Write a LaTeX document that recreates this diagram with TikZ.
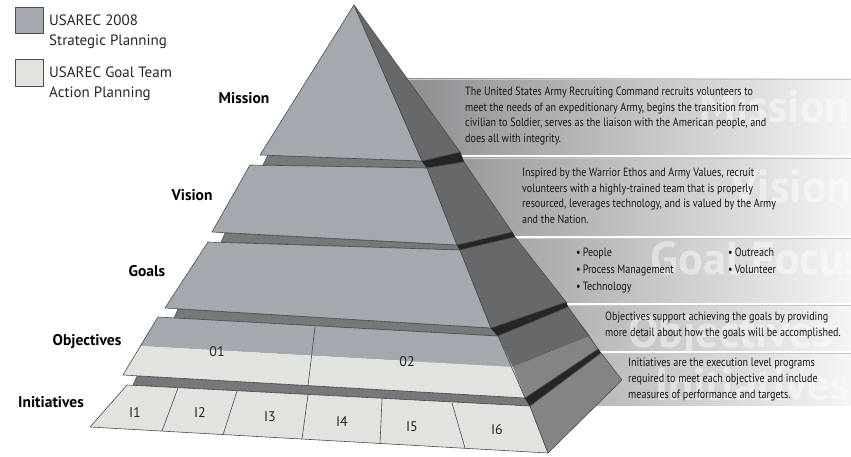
\documentclass[tikz,border=0pt]{standalone}
\usepackage{fontspec}
\setmainfont{PT Sans}
\newfontfamily\condensed{PT Sans}[FakeStretch=0.84]

\begin{document}
\begin{tikzpicture}[x=1pt, y=-1pt]
    \definecolor{stratgray}{HTML}{A3A9AE}
    \definecolor{actiongray}{HTML}{E0E3DE}
    \definecolor{sidedark}{HTML}{67686A}
    \definecolor{sidemid}{HTML}{838485}
    \definecolor{shelfgray}{HTML}{77787A}
    \definecolor{edgegray}{HTML}{4B4C4E}
    \definecolor{panelgray}{HTML}{8A8C8F}
    \definecolor{inkgray}{HTML}{161616}

    \tikzset{
        face/.style={draw=edgegray, line width=0.6pt, line join=round},
        shelf/.style={fill=shelfgray, draw=edgegray, line width=0.5pt, line join=round},
        sliver/.style={fill=black!85, draw=black!85, line width=0.4pt},
        tierlabel/.style={font=\bfseries\fontsize{15.5}{18}\selectfont, text=black},
        blocklabel/.style={font=\fontsize{14}{16}\selectfont, text=black!85},
        legendtext/.style={font=\fontsize{15}{20}\selectfont, text=black!85, align=left, anchor=west, inner sep=0pt},
        paneltext/.style={font=\condensed\fontsize{12}{15.5}\selectfont, text=inkgray, align=left, anchor=north west, inner sep=0pt},
        watermark/.style={font=\bfseries\fontsize{46}{46}\selectfont, text=white, text opacity=0.45, anchor=east, inner sep=0pt}
    }

    \useasboundingbox (0,0) rectangle (851,457);

    % legend
    \draw[face, fill=stratgray] (15,7) rectangle (43,33);
    \node[legendtext] (strategic) at (49,32) {USAREC 2008\\Strategic Planning};
    \draw[face, fill=actiongray] (15,59) rectangle (43,86);
    \node[legendtext] (action) at (49,84) {USAREC Goal Team\\Action Planning};

    % text panels behind the pyramid
    \foreach \ya/\yb/\xw/\yw/\word [count=\i] in {79/155/850/106/Mission, 158/235/852/186/Vision, 238/302/864/258/Goal Focus, 305/350/832/336/Objectives, 353/405/850/384/Initiatives}{
        \begin{scope}
            \clip (400,\ya) rectangle (851,\yb);
            \shade[left color=panelgray, right color=white!96!black] (400,\ya) rectangle (851,\yb);
            \node[watermark] (mark\i) at (\xw,\yw) {\word};
        \end{scope}
        \draw[black!22, line width=0.8pt] (400,\ya) -- (851,\ya);
    }

    \node[paneltext] (missiontext) at (465,87) {The United States Army Recruiting Command recruits volunteers to\\
        meet the needs of an expeditionary Army, begins the transition from\\
        civilian to Soldier, serves as the liaison with the American people, and\\
        does all with integrity.};
    \node[paneltext] (visiontext) at (522,168) {Inspired by the Warrior Ethos and Army Values, recruit\\
        volunteers with a highly-trained team that is properly\\
        resourced, leverages technology, and is valued by the Army\\
        and the Nation.};
    \node[paneltext, font=\condensed\fontsize{12}{17}\selectfont] (goalsleft) at (576,248) {\textbullet\,People\\
        \textbullet\,Process Management\\
        \textbullet\,Technology};
    \node[paneltext, font=\condensed\fontsize{12}{17}\selectfont] (goalsright) at (728,248) {\textbullet\,Outreach\\
        \textbullet\,Volunteer};
    \node[paneltext, font=\condensed\fontsize{12}{16}\selectfont] (objectivestext) at (605,312) {Objectives support achieving the goals by providing\\
        more detail about how the goals will be accomplished.};
    \node[paneltext, font=\condensed\fontsize{12}{16}\selectfont] (initiativestext) at (628,358) {Initiatives are the execution level programs\\
        required to meet each objective and include\\
        measures of performance and targets.};

    % shelves between the tiers
    \draw[shelf] (268,155) -- (422,161) -- (427,168) -- (263,165) -- cycle;
    \draw[shelf] (225,233) -- (457,245) -- (460,250) -- (221,242) -- cycle;
    \draw[shelf] (178,309) -- (491,328) -- (498,336) -- (174,318) -- cycle;
    \draw[shelf] (137,376) -- (525,398) -- (530,406) -- (133,385) -- cycle;
    \draw[sliver] (422,161) -- (460,152) -- (464,162) -- (427,168) -- cycle;
    \draw[sliver] (457,245) -- (512,232) -- (515,237) -- (460,250) -- cycle;
    \draw[sliver] (491,328) -- (566,302) -- (568,307) -- (498,336) -- cycle;
    \draw[sliver] (525,398) -- (598,349) -- (601,353) -- (530,406) -- cycle;

    % mission
    \draw[face, fill=stratgray] (354,5) -- (422,161) -- (260,155) -- cycle;
    \draw[face, fill=sidedark] (354,5) -- (460,152) -- (422,161) -- cycle;
    % vision
    \draw[face, fill=stratgray] (250,165) -- (427,168) -- (457,245) -- (212,232) -- cycle;
    \draw[face, fill=sidedark] (427,168) -- (464,162) -- (512,232) -- (457,245) -- cycle;
    % goals
    \draw[face, fill=stratgray] (208,242) -- (460,250) -- (491,328) -- (165,308) -- cycle;
    \draw[face, fill=sidedark] (460,250) -- (515,237) -- (566,302) -- (491,328) -- cycle;
    % objectives, split in two plans
    \fill[stratgray] (158,317) -- (498,336) -- (513,367) -- (140,346) -- cycle;
    \fill[actiongray] (140,346) -- (513,367) -- (525,398) -- (123,375) -- cycle;
    \fill[sidedark] (498,336) -- (568,307) -- (590,336) -- (513,367) -- cycle;
    \fill[sidemid] (513,367) -- (590,336) -- (598,349) -- (525,398) -- cycle;
    \draw[face] (158,317) -- (498,336) -- (525,398) -- (123,375) -- cycle;
    \draw[face] (498,336) -- (568,307) -- (598,349) -- (525,398);
    \draw[edgegray, line width=0.6pt] (315,327) -- (308,386);
    % initiatives
    \draw[face, fill=actiongray] (127,385) -- (530,406) -- (548,453) -- (90,427) -- cycle;
    \draw[face, fill=sidemid] (530,406) -- (601,353) -- (622,380) -- (548,453) -- cycle;
    \foreach \xa/\ya/\xb/\yb in {178/388/162/431, 237/391/223/435, 308/395/302/439, 382/399/380/444, 452/403/465/448}
        \draw[edgegray, line width=0.6pt] (\xa,\ya) -- (\xb,\yb);

    % labels
    \node[tierlabel] (mission) at (244,98) {Mission};
    \node[tierlabel] (vision) at (192,195) {Vision};
    \node[tierlabel] (goals) at (147,271) {Goals};
    \node[tierlabel] (objectives) at (87,342) {Objectives};
    \node[tierlabel] (initiatives) at (51,402) {Initiatives};

    \node[blocklabel] (o1) at (217,352) {01};
    \node[blocklabel] (o2) at (407,362) {02};
    \foreach \x/\y [count=\i] in {135/413, 200/413, 270/417, 342/422, 412/427, 497/430}
        \node[blocklabel] (i\i) at (\x,\y) {I\i};
\end{tikzpicture}
\end{document}
